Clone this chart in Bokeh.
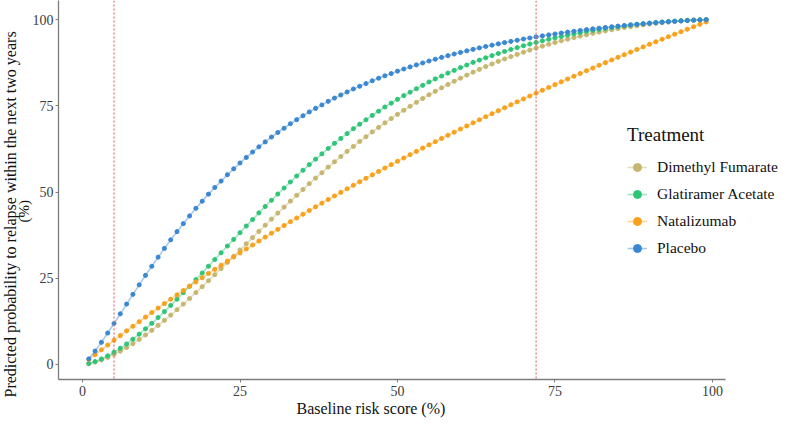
import math
from bokeh.plotting import figure
from bokeh.models import Span, Legend, LegendItem, Range1d, FixedTicker, Title
from bokeh.embed import file_html
from bokeh.resources import INLINE

risk = list(range(1, 100))

dimethyl_fumarate = [
    0.24, 0.71, 1.32, 2.06, 2.92, 3.87, 4.92, 6.05, 7.26, 8.56,
    9.90, 11.33, 12.79, 14.32, 15.88, 17.51, 19.14, 20.85, 22.55, 24.29,
    26.03, 27.81, 29.61, 31.37, 33.18, 34.98, 36.78, 38.58, 40.37, 42.14,
    43.88, 45.62, 47.35, 49.04, 50.73, 52.41, 54.02, 55.59, 57.21, 58.75,
    60.28, 61.77, 63.21, 64.64, 66.01, 67.43, 68.73, 70.03, 71.28, 72.51,
    73.69, 74.85, 75.99, 77.10, 78.19, 79.18, 80.19, 81.17, 82.10, 82.99,
    83.89, 84.75, 85.54, 86.36, 87.11, 87.87, 88.57, 89.25, 89.89, 90.52,
    91.13, 91.72, 92.28, 92.82, 93.33, 93.84, 94.30, 94.75, 95.18, 95.59,
    95.99, 96.35, 96.71, 97.04, 97.36, 97.66, 97.93, 98.19, 98.44, 98.68,
    98.88, 99.08, 99.27, 99.42, 99.57, 99.70, 99.81, 99.90, 99.96]

glatiramer_acetate = [
    0.29, 0.85, 1.60, 2.50, 3.54, 4.69, 5.96, 7.34, 8.79, 10.33,
    11.93, 13.61, 15.33, 17.12, 18.92, 20.81, 22.66, 24.61, 26.51, 28.47,
    30.42, 32.36, 34.34, 36.26, 38.20, 40.13, 42.02, 43.94, 45.79, 47.60,
    49.41, 51.15, 52.91, 54.64, 56.31, 57.94, 59.52, 61.05, 62.62, 64.10,
    65.53, 66.93, 68.35, 69.64, 70.92, 72.20, 73.42, 74.63, 75.76, 76.86,
    77.94, 78.93, 79.94, 80.91, 81.90, 82.78, 83.61, 84.46, 85.25, 86.06,
    86.81, 87.57, 88.23, 88.90, 89.54, 90.15, 90.74, 91.32, 91.86, 92.39,
    92.89, 93.36, 93.83, 94.27, 94.69, 95.09, 95.47, 95.84, 96.18, 96.52,
    96.83, 97.12, 97.41, 97.67, 97.92, 98.16, 98.38, 98.59, 98.79, 98.97,
    99.13, 99.29, 99.43, 99.55, 99.67, 99.77, 99.85, 99.92, 99.97]

natalizumab = [
    1.43, 2.84, 4.24, 5.63, 7.01, 8.38, 9.74, 11.08, 12.41, 13.74,
    15.05, 16.35, 17.64, 18.92, 20.18, 21.44, 22.69, 23.93, 25.16, 26.38,
    27.58, 28.78, 29.97, 31.15, 32.33, 33.49, 34.64, 35.79, 36.92, 38.05,
    39.17, 40.28, 41.38, 42.47, 43.55, 44.63, 45.70, 46.76, 47.81, 48.86,
    49.89, 50.92, 51.95, 52.96, 53.97, 54.97, 55.96, 56.95, 57.93, 58.90,
    59.86, 60.82, 61.77, 62.72, 63.66, 64.59, 65.51, 66.43, 67.34, 68.25,
    69.15, 70.04, 70.93, 71.81, 72.69, 73.56, 74.42, 75.28, 76.13, 76.98,
    77.82, 78.65, 79.48, 80.31, 81.13, 81.94, 82.75, 83.55, 84.35, 85.15,
    85.93, 86.72, 87.49, 88.27, 89.04, 89.80, 90.56, 91.31, 92.06, 92.81,
    93.54, 94.28, 95.01, 95.74, 96.46, 97.17, 97.89, 98.60, 99.30]

placebo = [
    1.63, 3.89, 6.42, 9.11, 11.88, 14.68, 17.51, 20.33, 23.08, 25.83,
    28.47, 31.11, 33.65, 36.13, 38.51, 40.83, 43.07, 45.27, 47.33, 49.38,
    51.31, 53.16, 55.01, 56.72, 58.41, 60.02, 61.58, 63.09, 64.52, 65.92,
    67.25, 68.49, 69.78, 70.97, 72.10, 73.21, 74.24, 75.24, 76.28, 77.22,
    78.13, 78.99, 79.87, 80.65, 81.43, 82.24, 82.99, 83.68, 84.32, 85.03,
    85.65, 86.26, 86.84, 87.41, 87.97, 88.50, 89.02, 89.52, 90.00, 90.46,
    90.91, 91.35, 91.77, 92.17, 92.56, 92.94, 93.30, 93.66, 93.99, 94.33,
    94.64, 94.95, 95.25, 95.54, 95.81, 96.08, 96.34, 96.59, 96.83, 97.06,
    97.28, 97.49, 97.70, 97.90, 98.09, 98.27, 98.45, 98.61, 98.77, 98.93,
    99.08, 99.21, 99.34, 99.47, 99.58, 99.69, 99.79, 99.87, 99.95]

treatments = ["Dimethyl Fumarate", "Glatiramer Acetate", "Natalizumab", "Placebo"]
colors = ["#c6b66f", "#2fc577", "#f8a21c", "#3a87d2"]
x_ticks = [0, 25, 50, 75, 100]
y_ticks = [0, 25, 50, 75, 100]
ref_lines = [5, 72]

FONT = "Liberation Serif"

X_START, X_AXIS_END, X_END = -3.81, 102.06, 111.43

p = figure(width=784, height=418, output_backend="svg", toolbar_location=None,
           x_range=Range1d(X_START, X_END), y_range=Range1d(-4.35, 105.51),
           min_border_left=58, min_border_right=0, min_border_top=0,
           min_border_bottom=39)
p.grid.visible = False
p.outline_line_color = None
p.background_fill_color = "white"

for ax in (p.xaxis[0], p.yaxis[0]):
    ax.axis_line_color = "#7d7d7d"
    ax.axis_line_width = 1.3
    ax.major_tick_line_color = "#7d7d7d"
    ax.major_tick_out = 3
    ax.major_tick_in = 0
    ax.minor_tick_line_color = None
    ax.major_label_text_font = FONT
    ax.major_label_text_font_size = "14px"
    ax.major_label_text_color = "#3c3c3c"
    ax.major_label_standoff = 3
p.yaxis[0].major_label_standoff = 2
p.xaxis[0].ticker = FixedTicker(ticks=x_ticks)
p.yaxis[0].ticker = FixedTicker(ticks=y_ticks)
p.xaxis[0].bounds = (X_START, X_AXIS_END)

for loc in ref_lines:
    p.add_layout(Span(location=loc, dimension="height", line_color="#e46f70",
                      line_dash="2 2", line_width=1.2))

series = [dimethyl_fumarate, glatiramer_acetate, natalizumab, placebo]
items = []
for name, vals, c in zip(treatments, series, colors):
    lr = p.line(risk, vals, line_color=c, line_width=1.6, line_alpha=0.45)
    sr = p.scatter(risk, vals, size=4.1, fill_color=c, line_color=c)
    items.append(LegendItem(label=name, renderers=[lr, sr]))

legend = Legend(items=items, location=(569, 121), title="Treatment",
                title_text_font=FONT, title_text_font_size="19px",
                title_text_font_style="normal", title_text_color="#111111",
                title_standoff=11,
                label_text_font=FONT, label_text_font_size="15.5px",
                label_text_color="#111111", label_standoff=10,
                glyph_width=20, glyph_height=20, label_height=20, spacing=7,
                padding=0, margin=0, border_line_color=None,
                background_fill_alpha=0)
p.add_layout(legend)

p.add_layout(Title(text="(%)", align="left", standoff=-5, offset=157,
                   text_font=FONT, text_font_size="15px",
                   text_font_style="normal", text_color="#111111"), "left")
p.add_layout(Title(text="Predicted probability to relapse within the next two years",
                   align="left", standoff=-4, offset=-18,
                   text_font=FONT, text_font_size="16px",
                   text_font_style="normal", text_color="#111111"), "left")
p.add_layout(Title(text="Baseline risk score (%)", align="left", standoff=-2,
                   offset=238, text_font=FONT, text_font_size="16px",
                   text_font_style="normal", text_color="#111111"), "below")

open("out.html", "w").write(file_html(p, INLINE))
